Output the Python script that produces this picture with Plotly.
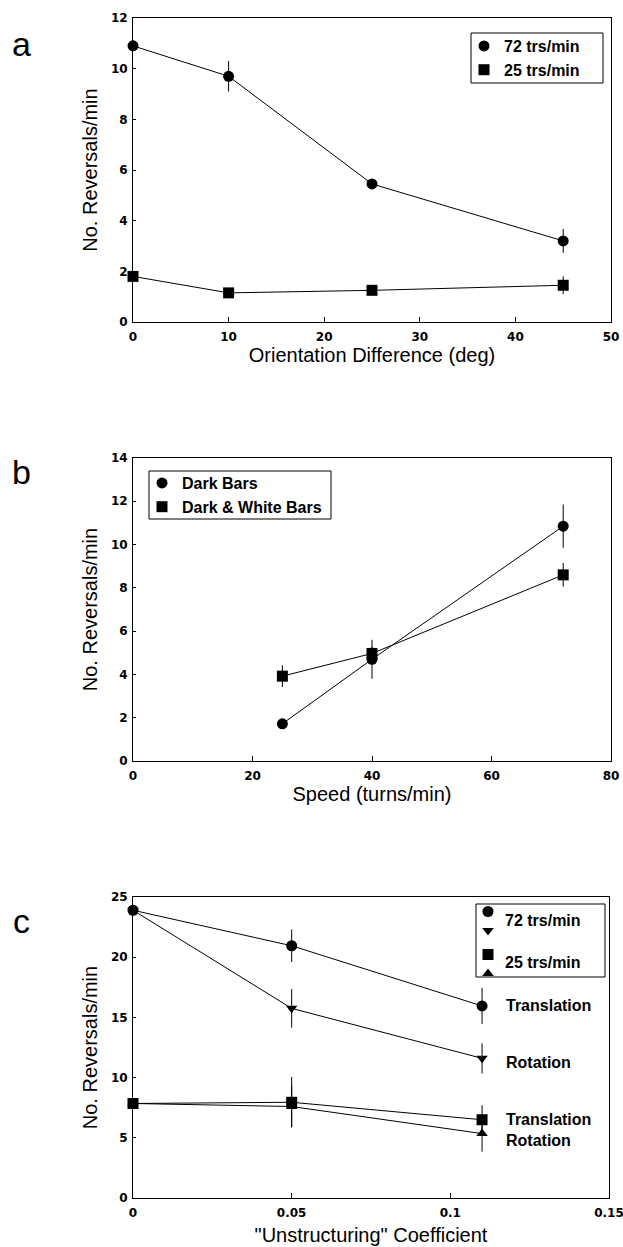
import plotly.graph_objects as go

# ---------------- data ----------------
# Panel a
orient_deg = [0, 10, 25, 45]
a_72 = [10.9, 9.7, 5.45, 3.2]
a_72_err = [0.15, 0.6, 0.15, 0.47]
a_25 = [1.8, 1.15, 1.25, 1.45]
a_25_err = [0.15, 0.15, 0.15, 0.35]

# Panel b
speed = [25, 40, 72]
b_dark = [1.72, 4.7, 10.85]
b_dark_err = [0.15, 0.9, 1.0]
b_dw = [3.92, 4.97, 8.6]
b_dw_err = [0.5, 0.3, 0.55]

# Panel c
coef = [0, 0.05, 0.11]
c_72_trans = [23.9, 20.95, 15.95]
c_72_trans_err = [0.3, 1.35, 1.5]
c_72_rot = [23.9, 15.75, 11.6]
c_72_rot_err = [0.3, 1.6, 1.25]
c_25_trans = [7.85, 7.95, 6.5]
c_25_trans_err = [0.3, 2.1, 1.2]
c_25_rot = [7.85, 7.6, 5.35]
c_25_rot_err = [0.3, 1.7, 1.5]
c_labels = ["Translation", "Rotation", "Translation", "Rotation"]

FONT = "Arial, Liberation Sans, sans-serif"
TICKFONT = "DejaVu Sans, sans-serif"
W, H = 623, 1247
ML, MR, MT, MB = 133, 12, 18, 49
PH = H - MT - MB
PW = W - ML - MR


def ydom(top_px, bot_px):
    return [(H - MB - bot_px) / PH, (H - MB - top_px) / PH]


def px_x(x):
    return (x - ML) / PW


def px_y(y):
    return (H - MB - y) / PH


fig = go.Figure()


def add(x, y, err, sym, name, xa, ya, legend, size=11, group=None):
    # connecting line (not in legend)
    fig.add_trace(go.Scatter(
        x=x, y=y, mode="lines", line=dict(color="black", width=1),
        xaxis=xa, yaxis=ya, showlegend=False, hoverinfo="skip",
    ))
    # markers with error bars (legend key)
    fig.add_trace(go.Scatter(
        x=x, y=y, mode="markers", name=name,
        marker=dict(symbol=sym, size=size, color="black"),
        error_y=dict(type="data", array=err, color="black", thickness=1, width=0),
        xaxis=xa, yaxis=ya, legend=legend, cliponaxis=False,
        legendgroup=group, showlegend=True,
    ))


add(orient_deg, a_72, a_72_err, "circle", "72 trs/min", "x", "y", "legend")
add(orient_deg, a_25, a_25_err, "square", "25 trs/min", "x", "y", "legend")
add(speed, b_dark, b_dark_err, "circle", "Dark Bars", "x2", "y2", "legend2")
add(speed, b_dw, b_dw_err, "square", "Dark & White Bars", "x2", "y2", "legend2")
add(coef, c_72_trans, c_72_trans_err, "circle", " ", "x3", "y3", "legend3", group="g72")
add(coef, c_72_rot, c_72_rot_err, "triangle-down", " ", "x3", "y3", "legend3", size=10, group="g72")
add(coef, c_25_trans, c_25_trans_err, "square", " ", "x3", "y3", "legend3", group="g25")
add(coef, c_25_rot, c_25_rot_err, "triangle-up", " ", "x3", "y3", "legend3", size=10, group="g25")

tickfont = dict(family=TICKFONT, size=12, color="black", weight="bold")
titlefont = dict(family=FONT, size=20, color="black")


def xax(rng, dtick, title, dom, anchor, tickvals=None, ticktext=None, standoff=2):
    d = dict(range=rng, dtick=dtick, domain=dom, anchor=anchor, automargin=False,
             showline=True, mirror=True, linecolor="black", linewidth=1,
             ticks="inside", ticklen=5, tickcolor="black", tickwidth=1,
             showgrid=False, zeroline=False, tickfont=tickfont,
             ticklabelstandoff=4, ticklabeloverflow="allow",
             title=dict(text=title, font=titlefont, standoff=standoff))
    if tickvals is not None:
        d.update(tickmode="array", tickvals=tickvals, ticktext=ticktext)
    return d


def yax(rng, dtick, dom, anchor):
    return dict(range=rng, dtick=dtick, domain=dom, anchor=anchor, automargin=False,
                showline=True, mirror=True, linecolor="black", linewidth=1,
                ticks="inside", ticklen=3, tickcolor="black", tickwidth=1,
                showgrid=False, zeroline=False, tickfont=tickfont,
                ticklabelstandoff=2, ticklabeloverflow="allow",
                title=dict(text="No. Reversals/min", font=titlefont, standoff=7))


legfont = dict(family=FONT, size=16, color="black", weight="bold")

fig.update_layout(
    width=W, height=H,
    margin=dict(l=ML, r=MR, t=MT, b=MB, autoexpand=False),
    paper_bgcolor="white", plot_bgcolor="white",
    font=dict(family=FONT, color="black"),
    xaxis=xax([0, 50], 10, "Orientation Difference (deg)", [0, 1], "y"),
    yaxis=yax([0, 12], 2, ydom(18, 322), "x"),
    xaxis2=xax([0, 80], 20, "Speed (turns/min)", [0, 1], "y2"),
    yaxis2=yax([0, 14], 2, ydom(458, 761), "x2"),
    xaxis3=xax([0, 0.15], None, "\"Unstructuring\" Coefficient", [0, 0.9958], "y3",
               tickvals=[0, 0.05, 0.1, 0.15], ticktext=["0", "0.05", "0.1", "0.15"],
               standoff=8),
    yaxis3=yax([0, 25], 5, ydom(897, 1198), "x3"),
    legend=dict(x=px_x(464), y=px_y(29), xanchor="left", yanchor="top",
                borderwidth=0, bgcolor="rgba(0,0,0,0)",
                font=legfont, itemwidth=30, tracegroupgap=0),
    legend2=dict(x=px_x(142), y=px_y(466), xanchor="left", yanchor="top",
                 borderwidth=0, bgcolor="rgba(0,0,0,0)",
                 font=legfont, itemwidth=30),
    legend3=dict(x=px_x(468), y=px_y(897), xanchor="left", yanchor="top",
                 borderwidth=0, bgcolor="rgba(0,0,0,0)", itemwidth=30,
                 font=dict(family=FONT, size=9, color="black"),
                 tracegroupgap=5),
    showlegend=True,
)

# legend frames
for x0, x1, y0, y1 in [(471, 603, 33, 83), (149, 331, 471, 519), (476, 605, 904, 977)]:
    fig.add_shape(type="rect", xref="paper", yref="paper",
                  x0=px_x(x0), x1=px_x(x1), y0=px_y(y1), y1=px_y(y0),
                  line=dict(color="black", width=1), fillcolor="rgba(0,0,0,0)",
                  layer="above")

# legend texts for panel c (two symbols share one label)
for txt, ypx in [("72 trs/min", 920), ("25 trs/min", 962)]:
    fig.add_annotation(x=px_x(503), y=px_y(ypx), xref="paper", yref="paper",
                       text=txt, showarrow=False, xanchor="left", yanchor="middle",
                       font=legfont)

# series labels at the end of each panel-c line
series_c = [c_72_trans, c_72_rot, c_25_trans, c_25_rot]
shifts = [0, -4, 0, -7]
for lab, ser, ys in zip(c_labels, series_c, shifts):
    fig.add_annotation(x=coef[-1], y=ser[-1], xref="x3", yref="y3", text=lab,
                       showarrow=False, xanchor="left", yanchor="middle",
                       xshift=22, yshift=ys, font=legfont)

# panel letters
for letter, ypx in [("a", 44), ("b", 472), ("c", 921)]:
    fig.add_annotation(x=px_x(21), y=px_y(ypx), xref="paper", yref="paper",
                       text=letter, showarrow=False, xanchor="center", yanchor="middle",
                       font=dict(family=FONT, size=34, color="black"))

fig.write_html("out.html", config={"displayModeBar": False},
               post_script="document.body.style.margin='0';")
